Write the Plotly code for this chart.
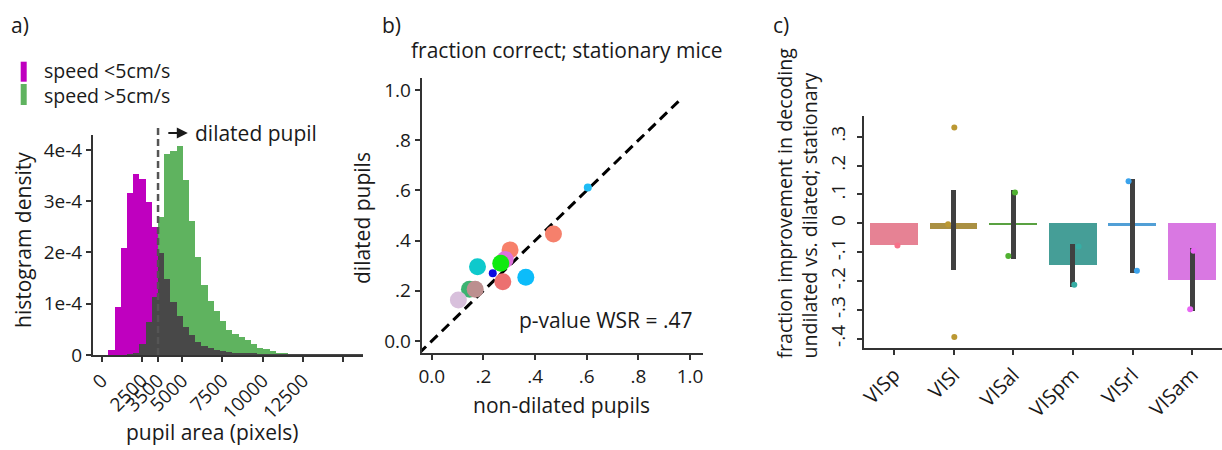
import numpy as np
import plotly.graph_objects as go

W, H = 1222, 450
FONT = "Open Sans"
INK = "#1a1a1a"
AXIS = "#333333"

# ---------------- a) pupil area histograms ----------------
bin_start = 420          # left edge of first bin (pixels^2)
bin_width = 385
# densities in units of 1e-4
slow_density = [0.10, 0.93, 2.08, 3.15, 3.52, 3.43, 2.98, 2.49, 1.98, 1.48,
                1.04, 0.77, 0.54, 0.39, 0.26, 0.18, 0.14, 0.10, 0.07, 0.05,
                0.04, 0.03, 0.02, 0.02, 0.01, 0.01, 0.005, 0.005, 0.004, 0.004,
                0.003, 0.003, 0.002, 0.002, 0.002, 0.002, 0.002, 0.002, 0.002,
                0.002, 0.002]
fast_density = [0.0, 0.0, 0.0, 0.005, 0.02, 0.21, 0.64, 1.14, 2.70, 3.92,
                3.97, 4.07, 3.41, 2.62, 1.91, 1.37, 1.05, 0.85, 0.67, 0.49,
                0.41, 0.36, 0.30, 0.22, 0.14, 0.11, 0.07, 0.04, 0.02, 0.015,
                0.01, 0.01, 0.006, 0.006, 0.006, 0.005, 0.005, 0.005, 0.004,
                0.004, 0.003]
threshold = 3500
hist_xticks = [0, 2500, 3500, 5000, 7500, 10000, 12500, 15000]
hist_xlabels = ["0", "2500", "3500", "5000", "7500", "10000", "12500", ""]
hist_yticks = [0, 1e-4, 2e-4, 3e-4, 4e-4]
hist_ylabels = ["0", "1e-4", "2e-4", "3e-4", "4e-4"]

# ---------------- b) fraction correct scatter ----------------
nondilated = [0.604, 0.471, 0.303, 0.284, 0.267, 0.177, 0.236, 0.364, 0.275, 0.146, 0.168, 0.103]
dilated =    [0.612, 0.426, 0.363, 0.325, 0.310, 0.296, 0.270, 0.254, 0.236, 0.206, 0.206, 0.163]
point_colors = ["#1ebcf5", "#f5806c", "#f7806a", "#dd72dc", "#10ea10", "#0ec9cc",
                "#0a0ae0", "#0cbcfa", "#ec7070", "#3cb371", "#bc8f8f", "#d8c0dc"]
point_sizes = [8, 17, 17, 17, 17, 17, 8, 17, 17, 17, 17, 17]
diag_extent = [-0.05, 0.955]
frac_ticks = [0.0, 0.2, 0.4, 0.6, 0.8, 1.0]
frac_labels = ["0.0", ".2", ".4", ".6", ".8", "1.0"]

# ---------------- c) improvement per visual area ----------------
areas = ["VISp", "VISl", "VISal", "VISpm", "VISrl", "VISam"]
area_mean = [-0.075, -0.021, -0.004, -0.146, -0.008, -0.196]
ci_low = [-0.075, -0.161, -0.123, -0.222, -0.171, -0.304]
ci_high = [-0.075, 0.117, 0.117, -0.073, 0.153, -0.087]
bar_colors = ["#e68294", "#aa9043", "#59a141", "#459e97", "#519fd6", "#d978e2"]
dot_colors = ["#f77189", "#bb9832", "#50b131", "#36ada4", "#3ba3ec", "#e866f4"]
# individual sessions: (area index, jitter, value)
session_area = [0, 1, 1, 1, 2, 2, 3, 3, 4, 4, 5, 5]
session_jitter = [0.056, 0.010, 0.010, -0.095, 0.028, -0.084, 0.022, 0.095, -0.067, 0.073, 0.022, -0.034]
session_value = [-0.077, 0.332, -0.394, -0.003, 0.107, -0.113, -0.213, -0.080, 0.146, -0.164, -0.095, -0.298]
imp_ticks = [0.3, 0.2, 0.1, 0.0, -0.1, -0.2, -0.3, -0.4]
imp_labels = [".3", ".2", ".1", "0", "-.1", "-.2", "-.3", "-.4"]


def px(x):
    return x / W


def py(y):
    return 1 - y / H


fig = go.Figure()

# histogram bars: full green, full magenta, shared part in dark grey
edges = bin_start + bin_width * np.arange(len(slow_density))
centers = edges + bin_width / 2
slow = np.array(slow_density) * 1e-4
fast = np.array(fast_density) * 1e-4
overlap = np.minimum(slow, fast)
for vals, col in [(fast, "#5fb35f"), (slow, "#bf00bf"), (overlap, "#484848")]:
    fig.add_trace(go.Bar(x=centers, y=vals, width=bin_width,
                         marker=dict(color=col, line=dict(width=0)),
                         xaxis="x", yaxis="y", showlegend=False, hoverinfo="skip"))

# scatter panel
fig.add_trace(go.Scatter(x=diag_extent, y=diag_extent, mode="lines",
                         line=dict(color="black", width=3, dash="10px,6px"),
                         xaxis="x2", yaxis="y2", showlegend=False, hoverinfo="skip"))
fig.add_trace(go.Scatter(x=nondilated, y=dilated, mode="markers",
                         marker=dict(color=point_colors, size=point_sizes, opacity=1,
                                     line=dict(width=0)),
                         xaxis="x2", yaxis="y2", showlegend=False))

# bar panel
idx = list(range(len(areas)))
err_plus = [h - m for h, m in zip(ci_high, area_mean)]
err_minus = [m - l for m, l in zip(area_mean, ci_low)]
fig.add_trace(go.Bar(x=idx, y=area_mean, width=0.8, marker=dict(color=bar_colors, line=dict(width=0)),
                     error_y=dict(type="data", array=err_plus, arrayminus=err_minus,
                                  color="#404040", thickness=5, width=0),
                     xaxis="x3", yaxis="y3", showlegend=False))
fig.add_trace(go.Scatter(x=[session_area[i] + session_jitter[i] for i in range(len(session_area))],
                         y=session_value, mode="markers",
                         marker=dict(color=[dot_colors[a] for a in session_area], size=6, opacity=1),
                         xaxis="x3", yaxis="y3", showlegend=False))

axis_common = dict(showline=True, linecolor=AXIS, linewidth=2, ticks="outside", ticklen=5,
                   tickwidth=1.5, tickcolor=AXIS, showgrid=False, zeroline=False,
                   automargin=False, tickfont=dict(family=FONT, size=19, color=INK))

fig.update_layout(
    template="none",
    width=W, height=H, autosize=False,
    margin=dict(l=0, r=0, t=0, b=0, pad=0),
    paper_bgcolor="white", plot_bgcolor="white",
    barmode="overlay", bargap=0,
    font=dict(family=FONT, color=INK),
    xaxis=dict(domain=[px(93), px(363)], anchor="y", range=[-540, 16230],
               tickmode="array", tickvals=hist_xticks, ticktext=hist_xlabels, tickangle=-45,
               **axis_common),
    yaxis=dict(domain=[py(355), py(135)], anchor="x", range=[0, 4.29e-4],
               tickmode="array", tickvals=hist_yticks, ticktext=hist_ylabels, **axis_common),
    xaxis2=dict(domain=[px(421.7), px(703.3)], anchor="y2", range=[-0.039, 1.051],
                tickmode="array", tickvals=frac_ticks, ticktext=frac_labels, **axis_common),
    yaxis2=dict(domain=[py(353), py(78)], anchor="x2", range=[-0.048, 1.048],
                tickmode="array", tickvals=frac_ticks, ticktext=frac_labels, **axis_common),
    xaxis3=dict(domain=[px(864.3), 1.0], anchor="y3", range=[-0.5, 5.5],
                tickmode="array", tickvals=idx, ticktext=areas, tickangle=-45,
                **{**axis_common, "tickfont": dict(family=FONT, size=20, color=INK)}),
    yaxis3=dict(domain=[py(348.3), py(116)], anchor="x3", range=[-0.433, 0.372],
                tickmode="array", tickvals=imp_ticks, ticktext=imp_labels, tickangle=-90,
                ticklabelstandoff=5, **axis_common),
)

# threshold marker and label
fig.add_shape(type="line", xref="x", yref="y domain", x0=threshold, x1=threshold, y0=0, y1=1.032,
              line=dict(color="#555555", width=2.5, dash="7px,4px"))
fig.add_annotation(xref="x", yref="y domain", x=5350, y=1.009, ax=-21, ay=0, text="",
                   showarrow=True, arrowhead=2, arrowsize=1.1, arrowwidth=2, arrowcolor=INK)
fig.add_annotation(xref="x", yref="y domain", x=5650, y=1.009, text="dilated pupil",
                   showarrow=False, xanchor="left", yanchor="middle",
                   font=dict(family=FONT, size=21, color=INK))

# legend for the histogram
for y0, y1, col in [(61.7, 81.7, "#bf00bf"), (84, 105, "#5fb35f")]:
    fig.add_shape(type="rect", xref="paper", yref="paper", x0=px(20.7), x1=px(26.7),
                  y0=py(y1), y1=py(y0), fillcolor=col, line=dict(width=0))


def text(x, y, s, size=21, xanchor="left", yanchor="middle", angle=0, align="center"):
    fig.add_annotation(xref="paper", yref="paper", x=px(x), y=py(y), text=s, showarrow=False,
                       xanchor=xanchor, yanchor=yanchor, textangle=angle, align=align,
                       borderpad=0, font=dict(family=FONT, size=size, color=INK))


text(42.7, 70.3, "speed &lt;5cm/s", size=19.5)
text(42.7, 95.5, "speed &gt;5cm/s", size=19.5)

# panel letters
text(10, 25, "a)")
text(381, 25, "b)")
text(772, 25, "c)")

# axis titles
text(212, 432, "pupil area (pixels)", xanchor="center")
text(23, 240, "histogram density", xanchor="center", angle=-90)
text(410, 50, "fraction correct; stationary mice")
text(561, 405, "non-dilated pupils", xanchor="center")
text(362, 218, "dilated pupils", xanchor="center", angle=-90)
text(518, 320, "p-value WSR = .47")
text(796, 360, "fraction improvement in decoding<br>undilated vs. dilated; stationary",
     xanchor="center", yanchor="bottom", angle=-90, align="left", size=19.6)

fig.write_html("out.html")
